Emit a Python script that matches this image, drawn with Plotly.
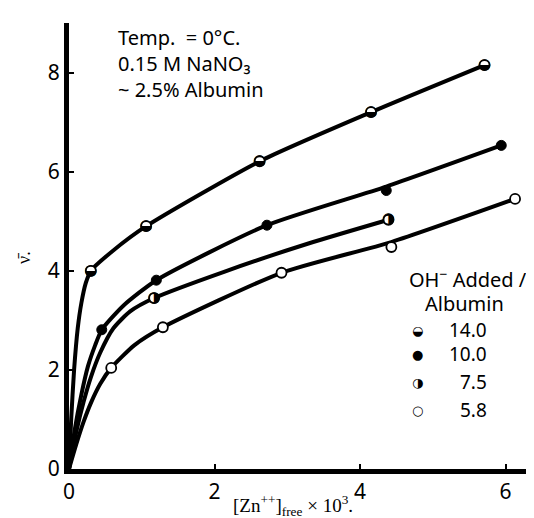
import plotly.graph_objects as go

# ---------------- data ----------------
# measured points
x_14 = [0.30, 1.06, 2.62, 4.15, 5.71]
y_14 = [4.00, 4.90, 6.21, 7.20, 8.15]
x_10 = [0.45, 1.20, 2.72, 4.36, 5.94]
y_10 = [2.81, 3.81, 4.92, 5.62, 6.53]
x_75 = [1.17, 4.39]
y_75 = [3.45, 5.03]
x_58 = [0.58, 1.29, 2.92, 4.43, 6.13]
y_58 = [2.04, 2.86, 3.96, 4.48, 5.45]

# drawn curves
curve_14_x = [0, 0.03, 0.07, 0.12, 0.17, 0.23, 0.30, 0.60, 1.06, 2.62, 4.15, 5.71]
curve_14_y = [0, 1.00, 2.00, 2.84, 3.35, 3.75, 4.00, 4.40, 4.90, 6.21, 7.20, 8.15]
curve_10_x = [0, 0.08, 0.17, 0.26, 0.36, 0.45, 0.75, 1.20, 2.72, 4.36, 5.94]
curve_10_y = [0, 0.80, 1.50, 2.07, 2.50, 2.81, 3.30, 3.81, 4.92, 5.70, 6.53]
curve_75_x = [0, 0.10, 0.20, 0.30, 0.43, 0.61, 0.84, 1.17, 2.15, 3.29, 4.39]
curve_75_y = [0, 0.75, 1.35, 1.85, 2.35, 2.84, 3.18, 3.45, 3.99, 4.55, 5.03]
curve_58_x = [0, 0.10, 0.20, 0.30, 0.43, 0.58, 0.90, 1.29, 2.92, 4.43, 6.13]
curve_58_y = [0, 0.50, 0.95, 1.33, 1.72, 2.04, 2.50, 2.86, 3.96, 4.58, 5.45]

x_ticks = [0, 2, 4, 6]
y_ticks = [0, 2, 4, 6, 8]
legend_labels = ["14.0", "10.0", "7.5", "5.8"]
legend_glyphs = ["\u25D2", "\u25CF", "\u25D1", "\u25CB"]
conditions = ["Temp.  = 0°C.", "0.15 M NaNO\u2083", "~ 2.5% Albumin"]

# ---------------- figure ----------------
W, H = 534, 518
ML, MR, MT, MB = 61, 0, 15, 57
PW, PH = W - ML - MR, H - MT - MB

def px(x):
    return (x - ML) / PW

def py(y):
    return (H - MB - y) / PH

SANS = "Noto Sans"
SERIF = "Liberation Serif"
GLYPH = "DejaVu Sans"

fig = go.Figure()
for cx, cy in [(curve_14_x, curve_14_y), (curve_10_x, curve_10_y),
               (curve_75_x, curve_75_y), (curve_58_x, curve_58_y)]:
    fig.add_trace(go.Scatter(x=cx, y=cy, mode="lines",
                             line=dict(color="black", width=4, shape="spline", smoothing=0.6),
                             hoverinfo="skip", showlegend=False))

# open circles (5.8)
fig.add_trace(go.Scatter(x=x_58, y=y_58, mode="markers", showlegend=False,
                         marker=dict(symbol="circle", size=10, color="white",
                                     line=dict(color="black", width=1.8))))
# filled circles (10.0)
fig.add_trace(go.Scatter(x=x_10, y=y_10, mode="markers", showlegend=False,
                         marker=dict(symbol="circle", size=10, color="black",
                                     line=dict(color="black", width=1))))
# half-filled (14.0, 7.5): white disc + glyph
for hx, hy, g in [(x_14, y_14, "\u25D2"), (x_75, y_75, "\u25D1")]:
    fig.add_trace(go.Scatter(x=hx, y=hy, mode="markers", showlegend=False,
                             marker=dict(symbol="circle", size=10, color="white",
                                         line=dict(color="black", width=1.8))))
    fig.add_trace(go.Scatter(x=hx, y=hy, mode="text", showlegend=False,
                             text=[g] * len(hx), textposition="middle center",
                             textfont=dict(family=GLYPH, size=15, color="black")))

ann = []
def add_text(text, x, y, size=20, family=SANS, xanchor="center", angle=0, align="center"):
    ann.append(dict(text=text, x=px(x), y=py(y), xref="paper", yref="paper",
                    showarrow=False, xanchor=xanchor, yanchor="middle", align=align,
                    textangle=angle, font=dict(family=family, size=size, color="black")))

add_text("<br>".join(conditions), 108, 55, xanchor="left", align="left")

add_text("OH<sup>\u2212</sup> Added /", 460, 270)
add_text("Albumin", 456, 295)
legend_y = [322, 346, 374, 402]
for lab, g, ly in zip(legend_labels, legend_glyphs, legend_y):
    add_text(g, 409, ly, size=13, family=GLYPH)
    add_text(lab, 481, ly, size=19, xanchor="right")

add_text("[Zn<sup>++</sup>]<sub>free</sub> \u00D7 10<sup>3</sup>.", 285, 498, size=19, family=SERIF)
add_text("\u03BD\u0304.", 16, 250, size=18, family=SERIF, angle=-90)

fig.update_layout(
    width=W, height=H,
    margin=dict(l=ML, r=MR, t=MT, b=MB, pad=0),
    paper_bgcolor="white", plot_bgcolor="white",
    showlegend=False,
    annotations=ann,
    xaxis=dict(range=[0, 6.5], tickvals=x_ticks, ticktext=[str(v) for v in x_ticks],
               showgrid=False, zeroline=False, showline=True, linecolor="black", linewidth=5,
               ticks="inside", ticklen=5, tickwidth=1.5, tickcolor="black",
               tickfont=dict(family=SANS, size=21, color="black")),
    yaxis=dict(range=[0, 9], tickvals=y_ticks, ticktext=[str(v) for v in y_ticks],
               showgrid=False, zeroline=False, showline=True, linecolor="black", linewidth=5,
               ticks="inside", ticklen=5, tickwidth=1.5, tickcolor="black",
               tickfont=dict(family=SANS, size=21, color="black")),
)

fig.write_html("out.html")
